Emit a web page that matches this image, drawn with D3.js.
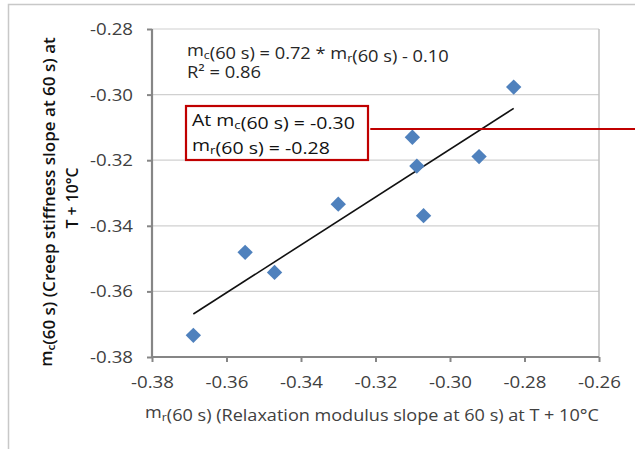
<!DOCTYPE html>
<html>
<head>
<meta charset="utf-8">
<script src="https://cdn.jsdelivr.net/npm/d3@7"></script>
<style>
  html, body { margin: 0; padding: 0; background: #fff; }
  svg { display: block; font-family: "Open Sans", "Lato", sans-serif; }
</style>
</head>
<body>
<svg id="chart" width="635" height="449"></svg>
<script>
// Relaxation modulus slope (x) vs creep stiffness slope (y), both at 60 s, T + 10°C
const mr60 = [-0.3689, -0.3550, -0.3471, -0.3300, -0.3101, -0.3089, -0.3071, -0.2922, -0.2829];
const mc60 = [-0.3734, -0.3481, -0.3542, -0.3334, -0.3130, -0.3218, -0.3369, -0.3189, -0.2977];

const xTicks = [-0.38, -0.36, -0.34, -0.32, -0.30, -0.28, -0.26];
const yTicks = [-0.38, -0.36, -0.34, -0.32, -0.30, -0.28];

// Annotation: horizontal reading line
const readLineY = -0.3105;
const readLineX = [-0.3214, -0.2503];

const svg = d3.select("#chart");
const plot = { left: 152, right: 599, top: 29, bottom: 357 };

const x = d3.scaleLinear().domain([-0.38, -0.26]).range([plot.left, plot.right]);
const y = d3.scaleLinear().domain([-0.38, -0.28]).range([plot.bottom, plot.top]);
const fmt = d3.format(".2f");
const minus = s => s.replace("−", "-");

// stretch a text horizontally (about its anchor x) to a given overall width
function fitWidth(sel, width, ax) {
  sel.each(function () {
    const len = this.getComputedTextLength();
    if (!len) return;
    const a = ax != null ? ax : +this.getAttribute("x") || 0;
    const sx = width / len;
    const prev = this.getAttribute("transform") || "";
    this.setAttribute("transform", `${prev} translate(${a},0) scale(${sx},1) translate(${-a},0)`);
  });
}

// outer chart frame (top and left edges)
svg.append("path")
  .attr("d", "M8.5,449 L8.5,4.5 L635,4.5")
  .attr("fill", "none").attr("stroke", "#c8c8c8").attr("stroke-width", 1.5);

// horizontal gridlines
svg.append("g").selectAll("line").data(yTicks.slice(1)).join("line")
  .attr("x1", plot.left).attr("x2", plot.right)
  .attr("y1", d => y(d)).attr("y2", d => y(d))
  .attr("stroke", "#d0d0d0").attr("stroke-width", 1.2);

// right edge of plot area
svg.append("line")
  .attr("x1", plot.right).attr("x2", plot.right)
  .attr("y1", plot.top).attr("y2", plot.bottom)
  .attr("stroke", "#c0c0c0").attr("stroke-width", 1.5);

// axes
const xAxis = d3.axisBottom(x).tickValues(xTicks).tickSize(5).tickPadding(14)
  .tickFormat(d => minus(fmt(d)));
const yAxis = d3.axisLeft(y).tickValues(yTicks).tickSize(5).tickPadding(14)
  .tickFormat(d => minus(fmt(d)));

function styleAxis(g) {
  g.select(".domain").attr("stroke", "#868686").attr("stroke-width", 2.2);
  g.selectAll(".tick line").attr("stroke", "#868686").attr("stroke-width", 2);
  g.selectAll(".tick text").attr("fill", "#404040")
    .style("font-size", "17px").style("font-family", "'Open Sans', sans-serif");
}
const gx = svg.append("g").attr("transform", `translate(0,${plot.bottom})`).call(xAxis).call(styleAxis);
gx.select(".domain").attr("d", `M${plot.left},0H${plot.right}`);
fitWidth(gx.selectAll(".tick text"), 43, 0);
const gy = svg.append("g").attr("transform", `translate(${plot.left},0)`).call(yAxis).call(styleAxis);
gy.select(".domain").attr("d", `M0,${plot.top}V${plot.bottom}`);
fitWidth(gy.selectAll(".tick text"), 43, -19);

// least-squares trendline over the data range
const mx = d3.mean(mr60), my = d3.mean(mc60);
const sxy = d3.sum(mr60, (v, i) => (v - mx) * (mc60[i] - my));
const sxx = d3.sum(mr60, v => (v - mx) * (v - mx));
const slope = sxy / sxx, intercept = my - slope * mx;
const xExt = d3.extent(mr60);
svg.append("path")
  .datum(xExt.map(v => [v, slope * v + intercept]))
  .attr("d", d3.line().x(d => x(d[0])).y(d => y(d[1])))
  .attr("stroke", "#111").attr("stroke-width", 1.6).attr("fill", "none");

// diamond markers
const diamond = d3.symbol().type(d3.symbolSquare).size(118);
svg.append("g").selectAll("path").data(mr60.map((v, i) => [v, mc60[i]])).join("path")
  .attr("d", diamond)
  .attr("transform", d => `translate(${x(d[0])},${y(d[1])}) rotate(45)`)
  .attr("fill", "#4f81bd");

// helper: text built from plain strings and {sub: "..."} subscript pieces
function richText(g, parts, attrs) {
  const t = g.append("text");
  Object.entries(attrs).forEach(([k, v]) => t.attr(k, v));
  parts.forEach(p => {
    if (typeof p === "object") {
      t.append("tspan").attr("font-size", "0.68em").attr("dy", "0.28em").text(p.sub);
      t.append("tspan").attr("dy", "-0.19em").text("");
    } else {
      t.append("tspan").text(p);
    }
  });
  return t;
}

// regression equation
const eq = svg.append("g").style("font-size", "16.5px").attr("fill", "#262626");
fitWidth(richText(eq, ["m", { sub: "c" }, "(60 s) = 0.72 * m", { sub: "r" }, "(60 s) - 0.10"], { x: 187, y: 56 }), 262);
fitWidth(eq.append("text").attr("x", 187).attr("y", 78).text("R² = 0.86"), 74);

// annotation box and reading line
svg.append("line")
  .attr("x1", x(readLineX[0])).attr("x2", x(readLineX[1]))
  .attr("y1", y(readLineY)).attr("y2", y(readLineY))
  .attr("stroke", "#c00000").attr("stroke-width", 2);
svg.append("rect")
  .attr("x", 186).attr("y", 106).attr("width", 182).attr("height", 54)
  .attr("fill", "#fff").attr("stroke", "#c00000").attr("stroke-width", 2.2);
const ann = svg.append("g").style("font-size", "17px").attr("fill", "#111");
fitWidth(richText(ann, ["At m", { sub: "c" }, "(60 s) = -0.30"], { x: 192, y: 126 }), 163);
fitWidth(richText(ann, ["m", { sub: "r" }, "(60 s) = -0.28"], { x: 192, y: 151 }), 138);

// axis titles
const xt = svg.append("g").style("font-size", "16.5px").attr("fill", "#404040");
fitWidth(richText(xt, ["m", { sub: "r" }, "(60 s) (Relaxation modulus slope at 60 s) at T + 10°C"],
  { x: 372, y: 418, "text-anchor": "middle" }), 454);

const yt = svg.append("g").attr("transform", "translate(46,202) rotate(-90)")
  .style("font-size", "16.5px").style("font-weight", "600").attr("fill", "#111");
fitWidth(richText(yt, ["m", { sub: "c" }, "(60 s) (Creep stiffness slope at 60 s) at"],
  { x: 0, y: 6, "text-anchor": "middle" }), 330);
fitWidth(yt.append("text").attr("x", 4).attr("y", 32).attr("text-anchor", "middle").text("T + 10°C"), 61);
</script>
</body>
</html>
